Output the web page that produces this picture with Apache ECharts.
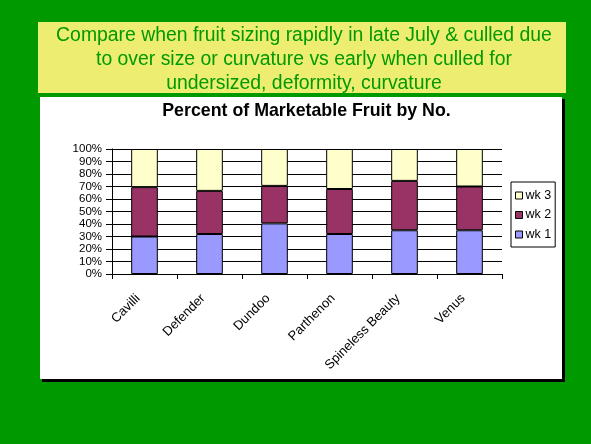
<!DOCTYPE html>
<html><head><meta charset="utf-8">
<script src="https://cdn.jsdelivr.net/npm/echarts@6/dist/echarts.min.js"></script>
<style>html,body{margin:0;padding:0;background:#009900}#c{width:591px;height:444px}</style>
</head><body><div id="c"></div>
<script>
const categories = ['Cavilli','Defender','Dundoo','Parthenon','Spineless Beauty','Venus'];
const wk1 = [30, 32, 40.5, 32, 35, 35];
const wk2 = [39.5, 34.5, 30, 36, 39.5, 35];
const wk3 = [30.5, 33.5, 29.5, 32, 25.5, 30];
const yTicks = ['0%','10%','20%','30%','40%','50%','60%','70%','80%','90%','100%'];
const headline = ['Compare when fruit sizing rapidly in late July & culled due','to over size or curvature vs early when culled for','undersized, deformity, curvature'];
const chartTitle = 'Percent of Marketable Fruit by No.';

const chart = echarts.init(document.getElementById('c'), null, {renderer:'canvas'});
const ff = 'Liberation Sans, Arial, sans-serif';
const mk = (name, data, color) => ({
  name, type:'bar', stack:'s', data, barWidth:'41%',
  itemStyle:{color, borderColor:'#000', borderWidth:1},
  animation:false
});
chart.setOption({
  backgroundColor:'#009900',
  animation:false,
  graphic:[
    {type:'rect', shape:{x:38,y:22,width:528,height:71}, style:{fill:'#EDED72'}, z:0},
    {type:'text', style:{text:headline.join('\n'), x:304, y:23.5, textAlign:'center', fill:'#009900', font:'19.4px '+ff, lineHeight:24}, z:1},
    {type:'rect', shape:{x:42,y:99,width:523,height:283}, style:{fill:'#000'}, z:0},
    {type:'rect', shape:{x:40,y:97,width:522,height:282}, style:{fill:'#fff'}, z:0}
  ],
  title:{text:chartTitle, left:301.5, top:97, textAlign:'center',
    textStyle:{fontFamily:ff, fontWeight:'bold', fontSize:17.8, color:'#000'}},
  grid:{left:112, right:89, top:149, bottom:170, show:true, backgroundColor:'#C0C0C0', borderWidth:0},
  legend:{orient:'vertical', left:511, top:182, width:47, height:56,
    data:['wk 3','wk 2','wk 1'], itemWidth:7, itemHeight:7, itemGap:6.5,
    padding:[7,4,6,4], borderColor:'#000', borderWidth:1, backgroundColor:'#fff',
    itemStyle:{borderColor:'#000', borderWidth:1},
    textStyle:{fontFamily:ff, fontSize:12.5, color:'#000', padding:[0,0,0,-2]}, icon:'rect'},
  xAxis:{type:'category', data:categories,
    axisLine:{lineStyle:{color:'#000', width:1}},
    axisTick:{show:true, alignWithLabel:false, length:5, lineStyle:{color:'#000'}},
    axisLabel:{rotate:45, fontFamily:ff, fontSize:13, color:'#000', interval:0, margin:16, padding:[0,9,0,0]}},
  yAxis:{type:'value', min:0, max:100, interval:10,
    axisLine:{show:true, lineStyle:{color:'#000'}},
    axisTick:{show:true, length:6, lineStyle:{color:'#000'}},
    splitLine:{show:true, lineStyle:{color:'#000', width:1}},
    axisLabel:{fontFamily:ff, fontSize:11.5, color:'#000', margin:10,
      formatter:(v)=>yTicks[Math.round(v/10)]}},
  series:[mk('wk 1', wk1, '#9999FF'), mk('wk 2', wk2, '#993366'), mk('wk 3', wk3, '#FFFFCC')]
});
</script></body></html>
